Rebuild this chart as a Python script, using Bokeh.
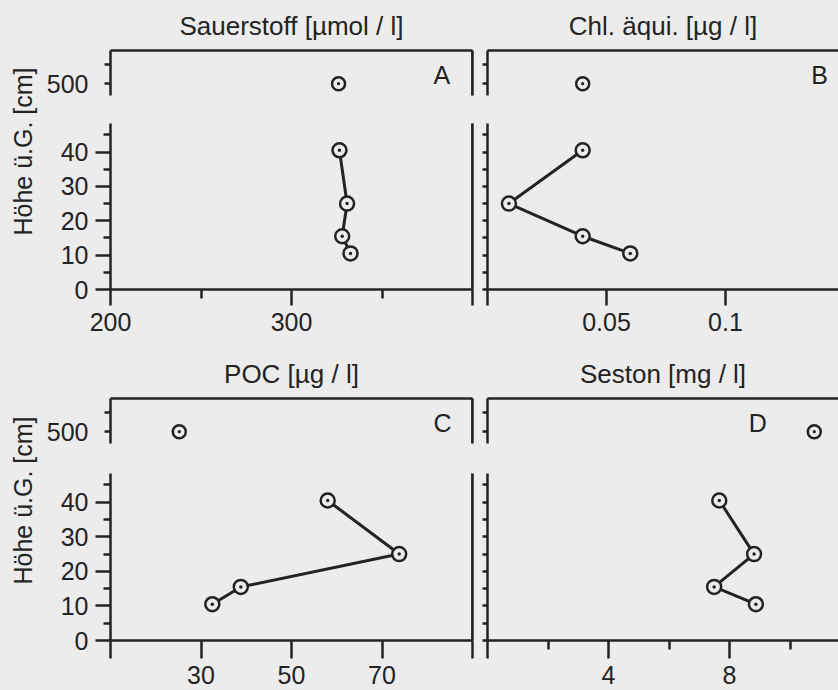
import math
from bokeh.plotting import figure
from bokeh.models import Range1d, LinearAxis, FixedTicker, Label
from bokeh.layouts import row, column
from bokeh.embed import file_html
from bokeh.resources import INLINE
from bokeh.core.properties import value

# ---------------- data ----------------
top_height = 500                      # cm above ground (upper, broken part)
heights = [40.5, 25, 15.5, 10.5]      # cm above ground (lower part)

oxygen_top = 326
oxygen = [326.5, 330.7, 328, 332.6]   # µmol/l
chl_top = 0.04
chl = [0.04, 0.009, 0.04, 0.06]       # µg/l
poc_top = 25.2
poc = [58, 73.8, 38.8, 32.5]          # µg/l
seston_top = 10.8
seston = [7.66, 8.81, 7.49, 8.87]     # mg/l

titles = ["Sauerstoff [µmol / l]", "Chl. äqui. [µg / l]", "POC [µg / l]", "Seston [mg / l]"]
letters = ["A", "B", "C", "D"]
y_label = "Höhe ü.G. [cm]"

y_major = [0, 10, 20, 30, 40]
y_minor = [5, 15, 25, 35, 45]
y_top_major = [500]
y_top_minor = [520]

x_ticks_A = [200, 300, 400]; x_minor_A = [250, 350]; x_labels_A = {200: "200", 300: "300", 400: ""}
x_ticks_B = [0, 0.05, 0.1]; x_minor_B = []; x_labels_B = {0: "", 0.05: "0.05", 0.1: "0.1"}
x_ticks_C = [10, 30, 50, 70, 90]; x_minor_C = []; x_labels_C = {10: "", 30: "30", 50: "50", 70: "70", 90: ""}
x_ticks_D = [0, 4, 8]; x_minor_D = [2, 6, 10]; x_labels_D = {0: "", 4: "4", 8: "8"}

# ---------------- style ----------------
INK = "#232323"
BG = "#ececec"
FONT = "Liberation Sans"
TICK_FS = "25px"
TITLE_FS = "26px"
LW = 2.5


def style_axis(ax, tick_out, minor_out, standoff=6):
    ax.axis_line_color = INK
    ax.axis_line_width = LW
    ax.major_tick_line_color = INK
    ax.major_tick_line_width = LW
    ax.minor_tick_line_color = INK
    ax.minor_tick_line_width = LW
    ax.major_tick_in = 0
    ax.minor_tick_in = 0
    ax.major_tick_out = tick_out
    ax.minor_tick_out = minor_out
    ax.major_label_text_font = FONT
    ax.major_label_text_font_size = TICK_FS
    ax.major_label_text_color = INK
    ax.major_label_standoff = standoff


def top_axis(p, xr, title_text):
    # top frame line of the panel, carrying the panel title as its label
    ax = LinearAxis(ticker=FixedTicker(ticks=[xr.start], minor_ticks=[]))
    style_axis(ax, 0, 0, standoff=0)
    ax.major_label_text_font_size = "1px"
    ax.major_label_overrides = {xr.start: ""}
    ax.axis_label = title_text
    ax.axis_label_text_font = FONT
    ax.axis_label_text_font_size = TITLE_FS
    ax.axis_label_text_font_style = "normal"
    ax.axis_label_text_color = INK
    ax.axis_label_standoff = 10
    p.add_layout(ax, "above")


def right_frame(p, loc, yr, tick):
    # closing frame line on the right side of the panel (at the last x tick)
    ax = LinearAxis(ticker=FixedTicker(ticks=[tick], minor_ticks=[]))
    style_axis(ax, 0, 0, standoff=0)
    ax.major_label_text_font_size = "1px"
    ax.major_label_overrides = {tick: ""}
    p.add_layout(ax, "right")
    p.segment(x0=[loc], y0=[yr.start], x1=[loc], y1=[yr.end],
              line_color=INK, line_width=LW)


def base_fig(w, h, xr, yr, left, right, top, bottom):
    p = figure(width=w, height=h, x_range=xr, y_range=yr, title=None,
               output_backend="svg", toolbar_location=None,
               x_axis_location=None, y_axis_location=None,
               min_border_left=left, min_border_right=right,
               min_border_top=top, min_border_bottom=bottom,
               styles={"background-color": BG})
    p.background_fill_color = BG
    p.border_fill_color = BG
    p.outline_line_color = None
    p.grid.visible = False
    return p


UP_H = 109       # 50 above frame + 45 frame + 14 below
UP_BOTTOM = 14


def panel(title, letter, letter_x, xr, border_at, top_val, vals, labeled,
          xt, xm, xl, lower_h, gap, bottom, xtick_len):
    w = 435 if labeled else 363
    left = 70 if labeled else 12
    right = 3 if labeled else 0
    y_up = Range1d(487.6, 535)
    y_lo = Range1d(0, 48.3)

    up = base_fig(w, UP_H, xr, y_up, left, right, 50, UP_BOTTOM)
    ay = LinearAxis(ticker=FixedTicker(ticks=y_top_major, minor_ticks=y_top_minor))
    if labeled:
        style_axis(ay, 6, 6, standoff=16)
    else:
        style_axis(ay, 5, 5, standoff=0)
        ay.major_label_overrides = {t: "" for t in y_top_major}
    up.add_layout(ay, "left")
    top_axis(up, xr, title)
    if border_at is not None:
        right_frame(up, border_at, y_up, y_top_major[0])
    up.scatter([top_val], [top_height], marker="circle_dot", size=13,
               line_width=LW, line_color=INK, fill_color=BG)
    up.add_layout(Label(x=letter_x, y=508.7, text=letter, text_align="center",
                        text_baseline="middle", text_font=FONT,
                        text_font_size="25px", text_color=INK))

    lo = base_fig(w, lower_h, xr, y_lo, left, right, gap - UP_BOTTOM, bottom)
    ly = LinearAxis(ticker=FixedTicker(ticks=y_major, minor_ticks=y_minor))
    if labeled:
        style_axis(ly, 15, 7, standoff=7)
    else:
        style_axis(ly, 5, 5, standoff=0)
        ly.major_label_overrides = {t: "" for t in y_major}
    lo.add_layout(ly, "left")
    lx = LinearAxis(ticker=FixedTicker(ticks=xt, minor_ticks=xm))
    style_axis(lx, xtick_len, 9, standoff=7)
    lx.major_label_overrides = xl
    lo.add_layout(lx, "below")
    if border_at is not None:
        right_frame(lo, border_at, y_lo, y_major[0])
    lo.line(vals, heights, line_width=3, line_color=INK)
    lo.scatter(vals, heights, marker="circle_dot", size=14,
               line_width=LW, line_color=INK, fill_color=BG)
    return up, lo


def label_fig(h, y_center_from_top):
    p = base_fig(40, h, Range1d(0, 40), Range1d(0, h), 0, 0, 0, 0)
    p.text(x=[22], y=[h - y_center_from_top], text=[y_label], angle=math.pi / 2,
           text_align="center", text_baseline="middle",
           text_font=value(FONT), text_font_size="25px", text_color=INK)
    return p


# frames: A/C 362 px wide, B/D 351 px wide
xrA = Range1d(200, 400)
xrB = Range1d(0, 0.1475)
xrC = Range1d(10, 90)
xrD = Range1d(0, 11.6)

upA, loA = panel(titles[0], letters[0], 383, xrA, 400, oxygen_top, oxygen, True,
                 x_ticks_A, x_minor_A, x_labels_A, 348 - UP_H, 28, 59, 16)
upB, loB = panel(titles[1], letters[1], 0.1395, xrB, None, chl_top, chl, False,
                 x_ticks_B, x_minor_B, x_labels_B, 348 - UP_H, 28, 59, 16)
upC, loC = panel(titles[2], letters[2], 83.4, xrC, 90, poc_top, poc, True,
                 x_ticks_C, x_minor_C, x_labels_C, 342 - UP_H, 30, 50, 18)
upD, loD = panel(titles[3], letters[3], 8.93, xrD, None, seston_top, seston, False,
                 x_ticks_D, x_minor_D, x_labels_D, 342 - UP_H, 30, 50, 18)

S = {"background-color": BG}
block1 = column(row(upA, upB, styles=S), row(loA, loB, styles=S), styles=S)
block2 = column(row(upC, upD, styles=S), row(loC, loD, styles=S), styles=S)
layout = column(row(label_fig(348, 151), block1, styles=S),
                row(label_fig(342, 152), block2, styles=S),
                styles=S)

open("out.html", "w").write(file_html(layout, INLINE))
